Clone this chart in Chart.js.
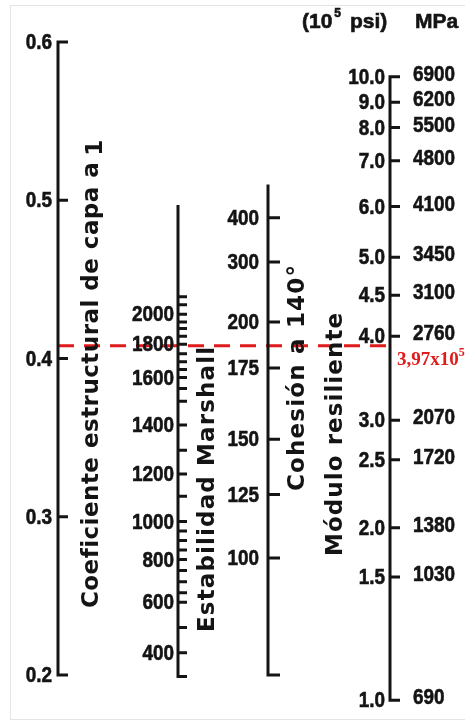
<!DOCTYPE html>
<html><head><meta charset="utf-8">
<script src="https://cdn.jsdelivr.net/npm/chart.js@4.4.1/dist/chart.umd.min.js"></script>
<style>html,body{margin:0;padding:0;background:#fff;}canvas{display:block;}</style>
</head><body>
<canvas id="c" width="465" height="722"></canvas>
<script>
const a1Ticks = [0.6, 0.5, 0.4, 0.3, 0.2];
const a1Labels = ['0.6', '0.5', '0.4', '0.3', '0.2'];

const marshallTickValues = [300,400,500,600,650,700,750,800,850,900,950,1000,1100,1200,1300,1400,1500,1550,1600,1650,1700,1750,1800,1850,1900,1950,2000,2050,2100];
const marshallTickA1 = [0.199,0.214,0.230,0.246,0.252,0.259,0.266,0.273,0.279,0.285,0.291,0.297,0.313,0.327,0.342,0.358,0.373,0.381,0.388,0.393,0.398,0.403,0.409,0.414,0.419,0.423,0.428,0.434,0.439];
const marshallLabelValues = [2000,1800,1600,1400,1200,1000,800,600,400];
const marshallTopA1 = 0.497;

const cohesionValues = [400, 300, 200, 175, 150, 125, 100];
const cohesionA1 = [0.489, 0.461, 0.423, 0.394, 0.349, 0.314, 0.274];
const cohesionRangeA1 = [0.200, 0.510];

const modulusPsi = ['10.0','9.0','8.0','7.0','6.0','5.0','4.5','4.0','3.0','2.5','2.0','1.5','1.0'];
const modulusMPa = ['6900','6200','5500','4800','4100','3450','3100','2760','2070','1720','1380','1030','690'];
const modulusA1 = [0.578,0.562,0.546,0.525,0.496,0.464,0.440,0.414,0.361,0.336,0.293,0.262,0.184];

const resultA1 = 0.408;
const resultText = '3,97x10';
const resultExp = '5';

// ===== LAYOUT =====
const AX = { a1: 58, marshall: 178, cohesion: 268, modulus: 390 };
const TICK = { a1: 10, marshall: 9, cohesion: 12, modulus: 10 };
const PX_PER_A1 = 1582.5;
const Y_MAX = 0.6 + 42 / PX_PER_A1;
const Y_MIN = Y_MAX - 722 / PX_PER_A1;
const INK = '#141414';
const RED = '#e01b1b';
const NUM_FONT = 'bold 22px "Liberation Sans", Arial, sans-serif';
const HEAD_FONT = 'bold 21px "Liberation Sans", Arial, sans-serif';
const NUM_SX = 0.86;

function addPath(arr, pts) { pts.forEach(p => arr.push({x: p[0], y: p[1]})); arr.push({x: pts[pts.length-1][0], y: null}); }

const frame = [];
addPath(frame, [[AX.a1 + TICK.a1, a1Ticks[0]], [AX.a1, a1Ticks[0]], [AX.a1, a1Ticks[4]], [AX.a1 + TICK.a1, a1Ticks[4]]]);
a1Ticks.slice(1, 4).forEach(v => addPath(frame, [[AX.a1, v], [AX.a1 + TICK.a1, v]]));
addPath(frame, [[AX.marshall, marshallTopA1], [AX.marshall, marshallTickA1[0]], [AX.marshall + TICK.marshall, marshallTickA1[0]]]);
marshallTickA1.slice(1).forEach(v => addPath(frame, [[AX.marshall, v], [AX.marshall + TICK.marshall, v]]));
addPath(frame, [[AX.cohesion, cohesionRangeA1[1]], [AX.cohesion, cohesionRangeA1[0]], [AX.cohesion + TICK.cohesion, cohesionRangeA1[0]]]);
cohesionA1.forEach(v => addPath(frame, [[AX.cohesion, v], [AX.cohesion + TICK.cohesion, v]]));
const mTop = modulusA1[0], mBot = modulusA1[modulusA1.length - 1];
addPath(frame, [[AX.modulus + TICK.modulus, mTop], [AX.modulus, mTop], [AX.modulus, mBot], [AX.modulus + TICK.modulus, mBot]]);
modulusA1.slice(1, -1).forEach(v => addPath(frame, [[AX.modulus, v], [AX.modulus + TICK.modulus, v]]));

const resultLine = [{x: AX.a1, y: resultA1}, {x: AX.modulus + 2, y: resultA1}];

function fitText(ctx, text, target) {
  ctx.letterSpacing = '0px';
  const w = ctx.measureText(text).width;
  const ls = (target - w) / Math.max(1, text.length - 1);
  ctx.letterSpacing = ls.toFixed(2) + 'px';
}
function num(ctx, text, x, y, align, sx) {
  ctx.save();
  ctx.translate(x, y);
  ctx.scale(sx === undefined ? NUM_SX : sx, 1);
  ctx.textAlign = align;
  ctx.fillText(text, 0, 0);
  ctx.strokeText(text, 0, 0);
  ctx.restore();
}

const textPlugin = {
  id: 'nomoText',
  beforeDraw(chart) {
    const ctx = chart.ctx;
    ctx.save();
    ctx.fillStyle = '#fff';
    ctx.fillRect(0, 0, chart.width, chart.height);
    ctx.strokeStyle = '#e4e4e4';
    ctx.lineWidth = 1;
    ctx.strokeRect(10.5, 5.5, 470, 714);
    ctx.restore();
  },
  afterDatasetsDraw(chart) {
    const ctx = chart.ctx;
    const xs = chart.scales.x, ys = chart.scales.y;
    const X = v => xs.getPixelForValue(v), Y = v => ys.getPixelForValue(v);
    ctx.save();
    ctx.fillStyle = INK;
    ctx.strokeStyle = INK;
    ctx.lineWidth = 0.6;
    ctx.textBaseline = 'middle';
    ctx.font = NUM_FONT;
    a1Ticks.forEach((v, i) => num(ctx, a1Labels[i], X(AX.a1) - 6, Y(v) + 1, 'right'));
    marshallLabelValues.forEach(val => {
      const i = marshallTickValues.indexOf(val);
      num(ctx, String(val), X(AX.marshall) - 4, Y(marshallTickA1[i]) + 1, 'right');
    });
    cohesionValues.forEach((val, i) => num(ctx, String(val), X(AX.cohesion) - 9, Y(cohesionA1[i]) + 1, 'right'));
    modulusA1.forEach((v, i) => {
      num(ctx, modulusPsi[i], X(AX.modulus) - 5, Y(v) + 1, 'right');
      num(ctx, modulusMPa[i], X(AX.modulus) + 23, Y(v) - 2, 'left');
    });
    // Header
    ctx.font = HEAD_FONT;
    const w10 = ctx.measureText('(10').width;
    num(ctx, '(10', 302, 22, 'left', 1);
    ctx.font = 'bold 12px "Liberation Sans", Arial, sans-serif';
    num(ctx, '5', 302 + w10 + 2, 14, 'left', 1);
    ctx.font = HEAD_FONT;
    num(ctx, 'psi)', 350, 22, 'left', 1);
    num(ctx, 'MPa', 415, 22, 'left', 1);

    // Axis titles (rotated)
    const titles = [
      {t: 'Coeficiente estructural de capa a', x: 92, y: 608, len: 445, sub: '1'},
      {t: 'Estabilidad Marshall', x: 208, y: 632, len: 285},
      {t: 'Cohesión a 140°', x: 298, y: 491, len: 226},
      {t: 'Módulo resiliente', x: 336, y: 556, len: 243}
    ];
    ctx.font = 'bold 23px "DejaVu Sans", Verdana, sans-serif';
    titles.forEach(o => {
      ctx.save();
      ctx.translate(X(o.x), o.y);
      ctx.rotate(-Math.PI / 2);
      ctx.textAlign = 'left';
      fitText(ctx, o.t, o.len);
      ctx.fillText(o.t, 0, 0);
      const w = ctx.measureText(o.t).width;
      if (o.sub) { ctx.letterSpacing = '0px'; ctx.fillText(o.sub, w + 6, 4); }
      ctx.restore();
    });

    // result label
    ctx.fillStyle = RED;
    ctx.textAlign = 'left';
    ctx.font = 'bold 19px "Liberation Serif", "Times New Roman", serif';
    const rx = X(AX.modulus) + 7, ry = Y(resultA1) + 14;
    ctx.fillText(resultText, rx, ry);
    const rw = ctx.measureText(resultText).width;
    ctx.font = 'bold 12px "Liberation Serif", "Times New Roman", serif';
    ctx.fillText(resultExp, rx + rw, ry - 7);
    ctx.restore();
  }
};

new Chart(document.getElementById('c'), {
  type: 'scatter',
  data: {
    datasets: [
      { label: 'Escalas', data: frame, showLine: true, spanGaps: false, borderColor: INK, borderWidth: 3,
        pointRadius: 0, borderCapStyle: 'butt', borderJoinStyle: 'miter', tension: 0 },
      { label: 'Resultado', data: resultLine, showLine: true, borderColor: RED, borderWidth: 3,
        borderDash: [16, 10], pointRadius: 0, tension: 0 }
    ]
  },
  options: {
    responsive: false, animation: false, devicePixelRatio: 1,
    layout: { padding: 0 },
    plugins: { legend: { display: false }, tooltip: { enabled: false } },
    scales: {
      x: { type: 'linear', min: 0, max: 465, display: false },
      y: { type: 'linear', min: Y_MIN, max: Y_MAX, display: false }
    }
  },
  plugins: [textPlugin]
});
</script>
</body></html>
